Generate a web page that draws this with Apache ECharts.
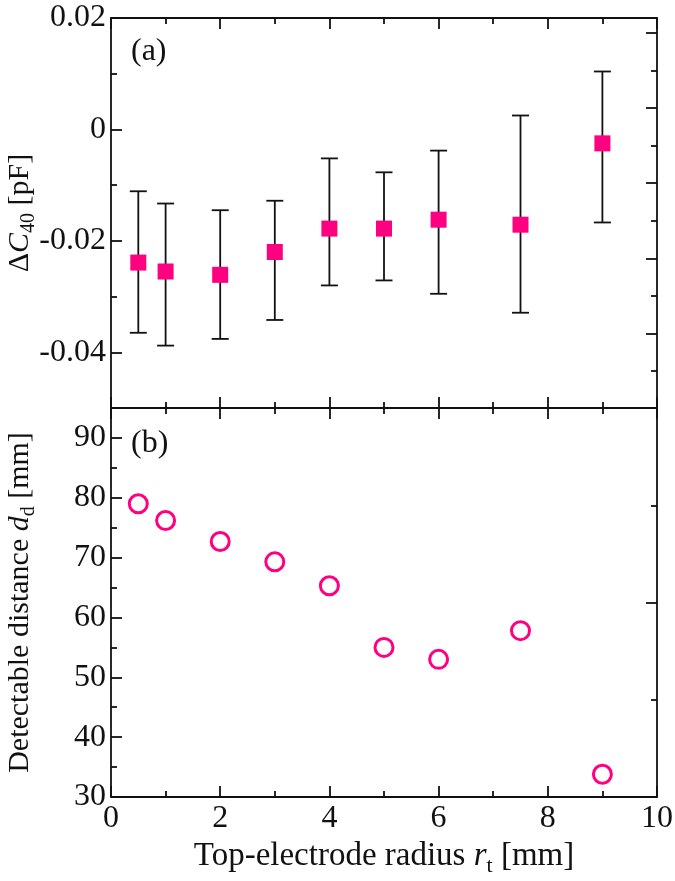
<!DOCTYPE html>
<html>
<head>
<meta charset="utf-8">
<script src="https://cdn.jsdelivr.net/npm/echarts@6/dist/echarts.min.js"></script>
<style>html,body{margin:0;padding:0;background:#fff;}#c{width:675px;height:881px;}</style>
</head>
<body>
<div id="c"></div>
<script>
// ---- data ----
const radius = [0.5, 1, 2, 3, 4, 5, 6, 7.5, 9];
const deltaC = [-0.0239, -0.0255, -0.0261, -0.0220, -0.0178, -0.0178, -0.0162, -0.0171, -0.0025];
const deltaCHigh = [-0.0111, -0.0133, -0.0145, -0.0128, -0.0052, -0.0077, -0.0038, 0.0025, 0.0104];
const deltaCLow = [-0.0365, -0.0388, -0.0376, -0.0342, -0.0280, -0.0271, -0.0295, -0.0329, -0.0167];
const detectDist = [79.0, 76.2, 72.7, 69.3, 65.3, 55.0, 53.0, 57.8, 33.8];

const xMajor = [0, 2, 4, 6, 8, 10];
const xMinor = [1, 3, 5, 7, 9];
const yAMajor = [-0.04, -0.02, 0, 0.02];
const yAMinor = [-0.05, -0.03, -0.01, 0.01];
const yBMajor = [30, 40, 50, 60, 70, 80, 90];
const yBMinor = [35, 45, 55, 65, 75, 85];
const rightAMajor = [1, 3, 5, 7, 9];
const rightAMinor = [0, 2, 4, 6, 8];
const rightBMajor = [2];
const rightBMinor = [1, 3];

const FONT = 'Liberation Serif';
const INK = '#111';
const PINK = '#FF0080';
const MAJ = 11, MIN = 6;
const LW = 1.8;

function axis(kind, o) {
  const a = {
    type: 'value',
    gridIndex: o.grid,
    position: o.pos,
    min: o.min, max: o.max,
    axisLine: { show: !!o.line, onZero: false, lineStyle: { color: INK, width: LW } },
    axisTick: { show: true, inside: true, length: o.len, customValues: o.ticks, lineStyle: { color: INK, width: LW } },
    axisLabel: { show: false },
    splitLine: { show: false },
    minorTick: { show: false },
  };
  if (o.labels) {
    a.axisLabel = { show: true, customValues: o.ticks, fontFamily: FONT, fontSize: 32, color: INK, margin: o.margin,
      formatter: o.fmt || (v => String(v)) };
  }
  if (o.name) {
    a.name = o.name;
    a.nameLocation = 'middle';
    a.nameGap = o.nameGap;
    a.nameMoveOverlap = false;
    a.nameTextStyle = o.nameStyle;
  }
  return a;
}

function rich(size) {
  return {
    n: { fontFamily: FONT, fontSize: size, color: INK, lineHeight: size + 8 },
    i: { fontFamily: FONT, fontSize: size, color: INK, fontStyle: 'italic', lineHeight: size + 8 },
    s: { fontFamily: FONT, fontSize: Math.round(size * 0.66), color: INK, verticalAlign: 'bottom', lineHeight: Math.round(size * 0.66) }
  };
}

const fmtA = v => {
  const r = Math.round(v * 100) / 100;
  if (r === 0) return '0';
  return r.toFixed(2);
};

const xAxes = [
  axis('x', { grid: 0, pos: 'bottom', min: 0, max: 10, line: true, len: MAJ, ticks: xMajor }),
  axis('x', { grid: 0, pos: 'bottom', min: 0, max: 10, len: MIN, ticks: xMinor }),
  axis('x', { grid: 0, pos: 'top', min: 0, max: 10, line: true, len: MAJ, ticks: xMajor }),
  axis('x', { grid: 0, pos: 'top', min: 0, max: 10, len: MIN, ticks: xMinor }),
  axis('x', { grid: 1, pos: 'top', min: 0, max: 10, line: true, len: MAJ, ticks: xMajor }),
  axis('x', { grid: 1, pos: 'top', min: 0, max: 10, len: MIN, ticks: xMinor }),
  axis('x', { grid: 1, pos: 'bottom', min: 0, max: 10, line: true, len: MAJ, ticks: xMajor, labels: true, margin: 6,
    name: '{n|Top-electrode radius }{i|r}{s|t}{n| [mm]}', nameGap: 39, nameStyle: { rich: rich(33) } }),
  axis('x', { grid: 1, pos: 'bottom', min: 0, max: 10, len: MIN, ticks: xMinor }),
];

const yAxes = [
  axis('y', { grid: 0, pos: 'left', min: -0.05, max: 0.02, line: true, len: MAJ, ticks: yAMajor, labels: true, margin: 5, fmt: fmtA,
    name: '{n|Δ}{i|C}{s|40}{n| [pF]}', nameGap: 72, nameStyle: { rich: rich(30) } }),
  axis('y', { grid: 0, pos: 'left', min: -0.05, max: 0.02, len: MIN, ticks: yAMinor }),
  axis('y', { grid: 0, pos: 'right', min: -0.985, max: 9.40, line: true, len: MAJ, ticks: rightAMajor }),
  axis('y', { grid: 0, pos: 'right', min: -0.985, max: 9.40, len: MIN, ticks: rightAMinor }),
  axis('y', { grid: 1, pos: 'left', min: 30, max: 95, line: true, len: MAJ, ticks: yBMajor, labels: true, margin: 5,
    name: '{n|Detectable distance }{i|d}{s|d}{n| [mm]}', nameGap: 72, nameStyle: { rich: rich(30) } }),
  axis('y', { grid: 1, pos: 'left', min: 30, max: 95, len: MIN, ticks: yBMinor }),
  axis('y', { grid: 1, pos: 'right', min: 0, max: 4, line: true, len: MAJ, ticks: rightBMajor }),
  axis('y', { grid: 1, pos: 'right', min: 0, max: 4, len: MIN, ticks: rightBMinor }),
];

const chart = echarts.init(document.getElementById('c'), null, { renderer: 'canvas' });
chart.setOption({
  animation: false,
  backgroundColor: '#fff',
  grid: [
    { left: 111, right: 18, top: 18, height: 390, containLabel: false, outerBoundsMode: 'none' },
    { left: 111, right: 18, top: 408, height: 389, containLabel: false, outerBoundsMode: 'none' }
  ],
  xAxis: xAxes,
  yAxis: yAxes,
  graphic: [
    { type: 'text', left: 131, top: 36, style: { text: '(a)', font: '32px "Liberation Serif"', fill: INK } },
    { type: 'text', left: 131, top: 428, style: { text: '(b)', font: '32px "Liberation Serif"', fill: INK } }
  ],
  series: [
    {
      type: 'custom',
      xAxisIndex: 0, yAxisIndex: 0,
      data: radius.map((x, i) => [x, deltaCLow[i], deltaCHigh[i]]),
      encode: { x: 0, y: [1, 2] },
      z: 2,
      renderItem: function (params, api) {
        const x = api.value(0);
        const lo = api.coord([x, api.value(1)]);
        const hi = api.coord([x, api.value(2)]);
        const w = 8.5;
        const st = { stroke: INK, lineWidth: LW };
        return {
          type: 'group',
          children: [
            { type: 'line', shape: { x1: lo[0], y1: lo[1], x2: hi[0], y2: hi[1] }, style: st },
            { type: 'line', shape: { x1: lo[0] - w, y1: lo[1], x2: lo[0] + w, y2: lo[1] }, style: st },
            { type: 'line', shape: { x1: hi[0] - w, y1: hi[1], x2: hi[0] + w, y2: hi[1] }, style: st }
          ]
        };
      }
    },
    {
      type: 'scatter',
      xAxisIndex: 0, yAxisIndex: 0,
      symbol: 'rect', symbolSize: 16,
      itemStyle: { color: PINK, opacity: 1 },
      z: 5,
      data: radius.map((x, i) => [x, deltaC[i]])
    },
    {
      type: 'scatter',
      xAxisIndex: 6, yAxisIndex: 4,
      symbol: 'circle', symbolSize: 18,
      itemStyle: { color: '#fff', borderColor: PINK, borderWidth: 3, opacity: 1 },
      z: 5,
      data: radius.map((x, i) => [x, detectDist[i]])
    }
  ]
});
</script>
</body>
</html>
